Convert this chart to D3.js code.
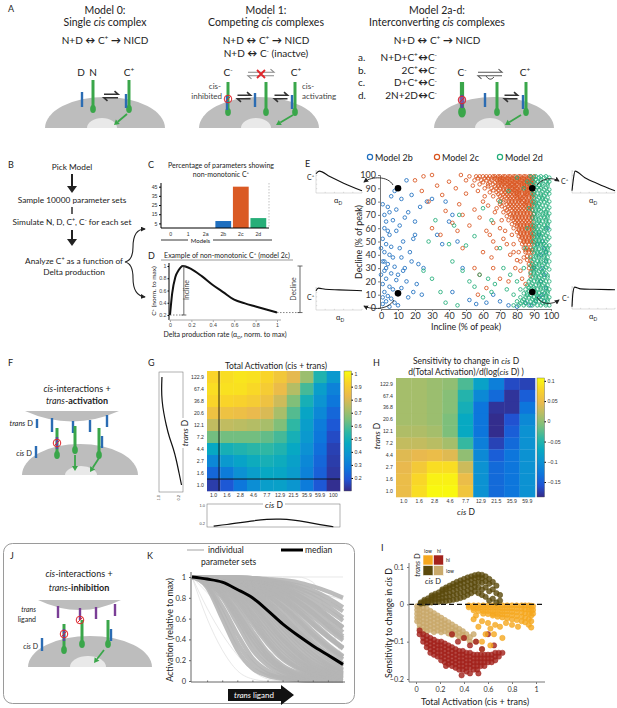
<!DOCTYPE html>
<html>
<head>
<meta charset="utf-8">
<script src="https://cdn.jsdelivr.net/npm/d3@7"></script>
<style>
  body { margin: 0; background: #fff; }
</style>
</head>
<body>
<svg width="617" height="708"></svg>
<script>
// ---------------- data ----------------
// C: percentage of parameter sets showing non-monotonic C+
const modelCats = ["0", "1", "2a", "2b", "2c", "2d"];
const modelPct = [0, 0, 0, 7.6, 45, 10.8];
const cTicks = [5, 15, 25, 35, 45];

// D: example non-monotonic C+ (model 2c)
const dAlpha = [0, 0.02, 0.05, 0.08, 0.12, 0.2, 0.3, 0.4, 0.5, 0.6, 0.7, 0.8, 0.9, 1];
const dCplus = [0.2, 0.55, 0.82, 0.93, 1.0, 0.95, 0.83, 0.69, 0.57, 0.45, 0.39, 0.34, 0.29, 0.24];

// E: incline / decline scatter, [incline, decline]
const e2b = [[1,78],[2,70],[3,65],[2,60],[4,58],[5,55],[1,52],[3,48],[6,46],[2,42],[5,40],[7,38],[1,35],[4,33],[8,31],[2,28],[6,26],[3,22],[9,21],[1,18],[5,16],[7,14],[2,12],[4,9],[6,7],[3,5],[8,4],[1,3],[10,2],[5,1],[11,45],[13,50],[12,38],[14,30],[10,25],[15,20],[12,15],[16,8],[9,58],[11,62],[7,66],[5,72],[9,74],[13,28],[17,42],[19,52],[20,55],[18,35],[22,33],[25,30],[14,68],[16,72],[20,65],[23,76],[27,80],[30,82],[18,85],[12,82],[8,88],[15,96],[6,84],[4,76],[19,12],[21,18],[24,10],[2,35],[0,45],[0,25],[1,8],[3,30],[33,55],[36,48],[40,65],[42,70],[38,80],[45,50],[48,30],[42,12],[52,6],[56,3],[62,4],[66,10],[70,5],[75,2],[93,55],[95,50],[96,45],[94,40],[97,35],[95,30],[96,25],[94,20],[97,15],[95,10],[96,5],[98,60],[92,48],[97,42],[93,8],[90,30],[91,5],[88,2],[85,4],[80,1]];
// model 2c rows: [decline, [inclines]]
const e2cRows = [
  [99,[52,56,58,60,62,64,66,67,69,70,72,73,75,76,78,79,81,82,84,85,87,88,90]],
  [97.5,[57,61,63,65,67,68,70,71,72,74,75,77,78,80,81,83,84,86,87,89]],
  [96,[55,59,62,65,68,70,71,73,74,76,77,79,80,82,83,85,86,88,89]],
  [94.5,[60,64,67,69,70,72,73,75,76,78,79,81,82,84,85,87,88,90]],
  [93,[58,63,66,69,71,72,74,75,77,78,80,81,83,84,86,87,89]],
  [91.5,[63,67,69,71,73,75,76,78,79,81,83,84,86,87,89]],
  [90,[61,65,68,70,72,74,76,77,79,80,82,84,85,87,88]],
  [88.5,[66,69,72,74,76,78,79,81,82,84,86,87,89]],
  [87,[64,68,71,73,75,77,78,80,81,83,85,86,88]],
  [85.5,[69,72,74,76,78,80,81,83,85,86,88,90]],
  [84,[66,70,73,75,77,79,80,82,84,85,87,89]],
  [82.5,[71,74,76,78,80,82,83,85,87,89]],
  [81,[69,72,75,77,79,81,82,84,86,88]],
  [79.5,[72,75,77,79,81,83,85,86,88,90]],
  [78,[70,74,76,78,80,82,84,85,87,89]],
  [76.5,[71,75,77,79,81,83,85,87,89]],
  [75,[68,73,76,78,80,82,84,86,88]],
  [73.5,[74,77,79,81,83,85,87,89]],
  [72,[72,75,78,80,82,84,86,88]],
  [70.5,[76,78,80,82,84,86,88,90]],
  [69,[74,77,79,81,83,85,87,89]],
  [67.5,[77,79,81,83,85,87,89]],
  [66,[75,78,80,82,84,86,88]],
  [64.5,[79,81,83,85,87,89]],
  [63,[77,80,82,84,86,88]],
  [61.5,[80,82,84,86,88,90]],
  [60,[78,81,83,85,87,89]],
  [58.5,[81,83,85,87,89]],
  [57,[80,82,84,86,88]],
  [55.5,[82,84,86,88,90]],
  [54,[81,83,85,87,89]],
  [52.5,[83,85,87,89]],
  [51,[82,84,86,88]],
  [49.5,[84,86,88,90]],
  [48,[83,85,87,89]],
  [45,[84,86,88]],
  [43.5,[85,87,89]],
  [42,[85,87,89]],
  [39,[86,88]],
  [36,[86,88]],
  [33,[87,89]],
  [30,[87,89]],
  [27,[88]],
  [24,[88]]
];
const e2cSparse = [[20,96],[24,88],[28,80],[33,92],[36,85],[40,95],[44,90],[46,78],[48,70],[50,86],[38,73],[42,64],[52,62],[55,74],[58,68],[60,80],[62,58],[64,55],[66,50],[68,45],[70,60],[72,52],[74,48],[76,40],[78,42],[79,30],[80,36],[82,28],[83,22],[85,18],[60,42],[65,38],[55,30],[58,25],[66,30],[70,22],[75,20],[57,10],[62,15],[48,45],[30,60],[35,55],[45,58],[47,100],[30,100],[25,99],[54,92],[50,96],[57,88],[61,84],[63,77],[67,72],[66,64],[71,66],[73,58],[77,55],[78,48],[81,42],[82,35],[84,38]];
// model 2d rows: [decline, [inclines]]
const e2dRows = [
  [99,[88,91,94,97]],[98,[90,93,96,99]],[96.5,[91,94,98]],[95,[89,92,94,97,99]],[93.5,[91,95,98]],[92,[90,93,95,98]],[90.5,[92,94,97]],[89,[91,93,96,99]],
  [87.5,[90,95,98]],[86,[89,92,94,97,99]],[84.5,[91,94,96]],[83,[90,93,95,98]],[81.5,[92,95,97]],[80,[89,91,94,96,99]],[78.5,[91,93,98]],[77,[90,92,95,97]],
  [75.5,[92,94,99]],[74,[89,91,93,96,98]],[72.5,[91,94,97]],[71,[90,92,95,97,99]],[69.5,[92,95,98]],[68,[89,91,94,96,98]],[66.5,[91,93,97]],[65,[90,93,95,97,99]],
  [63.5,[92,94,98]],[62,[89,91,93,96,98]],[60.5,[91,95,97]],[59,[90,92,94,97,99]],[57.5,[91,93,96]],[56,[89,91,93,95,98]],[54.5,[92,94,97]],[53,[90,92,94,96,99]],
  [51.5,[91,93,98]],[50,[89,91,93,95,97]],[48.5,[92,94,96]],[47,[90,92,94,97,99]],[45.5,[91,95,98]],[44,[89,91,93,96,98]],[42.5,[92,94,97]],[41,[90,92,95,97,99]],
  [39.5,[91,93,96]],[38,[88,91,93,96,98]],[36.5,[90,94,97]],[35,[89,92,94,97,99]],[33.5,[91,93,96]],[32,[88,90,93,95,98]],[30.5,[90,92,97]],[29,[89,91,94,96,99]],
  [27.5,[90,93,95]],[26,[88,90,92,95,97]],[24.5,[91,94,98]],[23,[89,91,93,96,98]],[21.5,[88,92,95]],[20,[87,90,92,94,97,99]],[18.5,[89,93,96]],[17,[86,88,91,93,95,98]],
  [15.5,[87,90,94,97]],[14,[85,88,90,92,94,97,99]],[12.5,[87,91,95,98]],[11,[84,86,89,91,93,96,98]],[9.5,[86,88,92,94,97]],[8,[82,85,87,90,92,95,97,99]],
  [6.5,[84,89,91,94,98]],[5,[80,83,86,88,91,93,96,98]],[3.5,[82,85,90,95,97]],[2,[78,81,84,87,89,92,94,97,99]]
];
const e2dSparse = [[30,22],[35,12],[40,48],[43,62],[46,70],[50,47],[52,20],[55,16],[58,25],[60,8],[63,22],[65,12],[67,18],[70,45],[72,30],[74,14],[76,25],[78,10],[80,20],[82,14],[84,30],[85,45],[86,60],[87,75],[88,93],[75,88],[70,80],[65,66],[60,75],[55,54],[48,28],[38,4],[45,2],[42,35],[32,66],[28,50],[25,28],[86,95],[84,90],[80,98]];
const eMarked = [[10,90],[89,90],[10,11],[89,12]];
const eTicks = [0,10,20,30,40,50,60,70,80,90,100];
// E inset curves, [alpha, C+]
const insetTL = [[0,0.88],[0.07,1],[0.3,0.75],[0.6,0.45],[1,0.1]];
const insetTR = [[0,0.1],[0.03,0.6],[0.07,1],[0.3,0.7],[0.6,0.42],[1,0.1]];
const insetBL = [[0,0.88],[0.05,1],[0.2,0.95],[0.5,0.92],[1,0.88]];
const insetBR = [[0,0.1],[0.02,0.7],[0.06,1],[0.2,0.92],[0.5,0.9],[1,0.88]];

// G, H: heatmaps (rows: trans D from high to low, columns: cis D)
const transD = ["122.9","67.4","36.8","20.6","12.1","7.2","4.4","2.7","1.6","1.0"];
const cisD = ["1.0","1.6","2.8","4.6","7.7","12.9","21.5","35.9","59.9","100"];
const cisDH = ["1.0","1.6","2.8","4.6","7.7","12.9","21.5","35.9","59.9"];
const gMatrix = [
  [0.93,0.95,0.97,0.96,0.93,0.88,0.82,0.70,0.52,0.40],
  [0.95,0.96,0.96,0.94,0.90,0.84,0.74,0.58,0.42,0.32],
  [0.93,0.93,0.92,0.90,0.86,0.78,0.66,0.50,0.38,0.28],
  [0.86,0.86,0.85,0.83,0.80,0.72,0.60,0.45,0.34,0.24],
  [0.76,0.76,0.75,0.74,0.72,0.66,0.55,0.42,0.30,0.20],
  [0.64,0.64,0.64,0.64,0.62,0.58,0.50,0.40,0.28,0.17],
  [0.46,0.50,0.52,0.54,0.55,0.52,0.46,0.37,0.26,0.15],
  [0.34,0.40,0.44,0.48,0.50,0.48,0.43,0.34,0.24,0.14],
  [0.24,0.30,0.37,0.42,0.46,0.45,0.41,0.32,0.22,0.13],
  [0.14,0.20,0.28,0.36,0.42,0.43,0.39,0.30,0.20,0.11]
];
const gBarTicks = [0.2,0.3,0.4,0.5,0.6,0.7,0.8,0.9,1];
const hMatrix = [
  [0.010,0.010,0.005,0.000,-0.030,-0.080,-0.120,-0.165,-0.170],
  [0.010,0.010,0.005,-0.005,-0.050,-0.110,-0.140,-0.180,-0.150],
  [0.010,0.010,0.005,-0.005,-0.060,-0.130,-0.180,-0.180,-0.130],
  [0.010,0.010,0.005,-0.010,-0.070,-0.130,-0.185,-0.160,-0.110],
  [0.015,0.015,0.010,-0.010,-0.070,-0.130,-0.185,-0.150,-0.100],
  [0.025,0.025,0.020,0.010,-0.040,-0.120,-0.170,-0.140,-0.100],
  [0.040,0.045,0.050,0.040,0.000,-0.110,-0.150,-0.130,-0.100],
  [0.045,0.065,0.085,0.085,0.030,-0.100,-0.140,-0.130,-0.100],
  [0.050,0.080,0.100,0.100,0.050,-0.100,-0.140,-0.130,-0.100],
  [0.050,0.085,0.105,0.105,0.060,-0.100,-0.140,-0.130,-0.100]
];
const hBarTicks = [0.1,0.05,0,-0.05,-0.1,-0.15];

// K: activation vs trans ligand
const kSteps = [0,0.1,0.2,0.3,0.4,0.5,0.6,0.7,0.8,0.9,1];
const kMedian = [1,0.98,0.95,0.88,0.8,0.68,0.55,0.44,0.34,0.25,0.16];
const kCurves = [
  [1,0.9,0.6,0.3,0.12,0.05,0.02,0.01,0,0,0],
  [1,0.92,0.66,0.37,0.17,0.07,0.03,0.01,0,0,0],
  [1,0.93,0.72,0.45,0.22,0.1,0.04,0.02,0.01,0,0],
  [1,0.95,0.8,0.55,0.3,0.15,0.07,0.03,0.01,0,0],
  [1,0.96,0.82,0.6,0.36,0.19,0.09,0.04,0.02,0.01,0],
  [1,0.96,0.84,0.63,0.4,0.22,0.11,0.05,0.02,0.01,0],
  [1,0.97,0.86,0.66,0.44,0.25,0.13,0.07,0.03,0.01,0],
  [1,0.97,0.88,0.7,0.48,0.28,0.15,0.08,0.04,0.02,0.01],
  [1,0.98,0.9,0.75,0.55,0.36,0.21,0.12,0.06,0.03,0.02],
  [1,0.98,0.91,0.77,0.58,0.39,0.23,0.13,0.07,0.04,0.02],
  [1,0.98,0.92,0.8,0.62,0.42,0.26,0.15,0.08,0.04,0.02],
  [1,0.99,0.93,0.82,0.65,0.46,0.3,0.18,0.1,0.05,0.03],
  [1,0.99,0.94,0.84,0.68,0.5,0.33,0.2,0.11,0.06,0.03],
  [1,0.99,0.95,0.86,0.72,0.54,0.37,0.23,0.13,0.07,0.04],
  [1,0.99,0.95,0.87,0.74,0.57,0.4,0.26,0.15,0.09,0.05],
  [1,0.99,0.96,0.88,0.76,0.6,0.43,0.28,0.17,0.1,0.06],
  [1,0.99,0.96,0.9,0.79,0.64,0.47,0.32,0.2,0.12,0.07],
  [1,0.99,0.96,0.91,0.81,0.67,0.51,0.36,0.23,0.14,0.08],
  [1,1,0.97,0.92,0.83,0.7,0.54,0.39,0.26,0.16,0.1],
  [1,0.99,0.97,0.93,0.85,0.73,0.58,0.43,0.29,0.18,0.11],
  [1,1,0.97,0.93,0.86,0.75,0.61,0.46,0.33,0.22,0.14],
  [1,1,0.98,0.94,0.87,0.77,0.63,0.48,0.35,0.24,0.15],
  [1,1,0.98,0.95,0.89,0.8,0.67,0.52,0.38,0.26,0.17],
  [1,1,0.98,0.95,0.9,0.82,0.71,0.57,0.43,0.31,0.21],
  [1,1,0.99,0.96,0.91,0.83,0.72,0.59,0.45,0.33,0.23],
  [1,1,0.99,0.96,0.92,0.85,0.75,0.62,0.48,0.35,0.24],
  [1,1,0.99,0.97,0.93,0.87,0.78,0.67,0.54,0.42,0.31],
  [1,1,0.99,0.97,0.93,0.87,0.79,0.68,0.55,0.43,0.32],
  [1,1,0.99,0.97,0.94,0.89,0.81,0.7,0.57,0.44,0.32],
  [1,1,1,0.98,0.95,0.9,0.83,0.73,0.62,0.5,0.39],
  [1,1,0.99,0.98,0.96,0.92,0.86,0.77,0.66,0.53,0.41],
  [1,1,1,0.98,0.95,0.91,0.85,0.76,0.65,0.54,0.43],
  [1,1,1,0.98,0.96,0.92,0.87,0.79,0.69,0.58,0.47],
  [1,1,1,0.99,0.97,0.94,0.9,0.83,0.74,0.63,0.51],
  [1,1,1,0.99,0.97,0.94,0.89,0.82,0.73,0.62,0.52],
  [1,1,1,0.99,0.98,0.95,0.91,0.85,0.77,0.68,0.58],
  [1,1,1,0.99,0.98,0.96,0.93,0.88,0.81,0.72,0.61],
  [1,1,1,1,0.99,0.97,0.94,0.9,0.84,0.76,0.67],
  [1,1,1,0.99,0.99,0.97,0.95,0.92,0.87,0.8,0.71],
  [1,1,1,1,0.99,0.98,0.97,0.95,0.91,0.86,0.8]
];
const kFaint = [
  [1,0.9,0.8,0.7,0.6,0.5,0.4,0.3,0.2,0.1,0],
  [1,0.95,0.9,0.85,0.8,0.75,0.7,0.65,0.6,0.55,0.5],
  [1,0.7,0.45,0.25,0.1,0.02,0,0,0,0,0],
  [1,0.6,0.3,0.1,0.02,0,0,0,0,0,0],
  [1,1,1,1,1,1,1,1,1,1,1],
  [1,0.98,0.96,0.94,0.92,0.9,0.88,0.86,0.84,0.82,0.8],
  [1,0.85,0.7,0.55,0.42,0.3,0.2,0.12,0.06,0.02,0],
  [1,1,1,1,1,1,0.9,0.5,0.1,0,0],
  [1,1,1,0.95,0.6,0.2,0.05,0,0,0,0],
  [1,1,1,1,1,0.95,0.7,0.3,0.08,0.01,0],
  [1,1,0.99,0.98,0.97,0.95,0.93,0.9,0.86,0.82,0.78],
  [1,1,1,1,1,1,1,1,0.95,0.6,0.2]
];
const kTicks = [0,0.2,0.4,0.6,0.8,1];

// I: sensitivity vs total activation, rows [activation, [sensitivities]]
const iOliveRows = [
  [0.04,[0.002,0.005]],[0.07,[0.003,0.008,0.012]],[0.10,[0.004,0.01,0.016]],
  [0.13,[0.005,0.012,0.019,0.024]],[0.16,[0.006,0.014,0.022,0.028]],[0.19,[0.007,0.015,0.024,0.032]],
  [0.22,[0.008,0.017,0.027,0.036,0.04]],[0.25,[0.009,0.019,0.03,0.04,0.045]],[0.28,[0.01,0.021,0.032,0.043,0.05]],
  [0.31,[0.012,0.024,0.036,0.047,0.055]],[0.34,[0.014,0.027,0.04,0.051,0.06]],[0.37,[0.017,0.03,0.043,0.055,0.064]],
  [0.40,[0.02,0.033,0.046,0.058,0.068]],[0.43,[0.025,0.037,0.05,0.062,0.072]],[0.46,[0.03,0.042,0.054,0.066,0.075]],
  [0.49,[0.035,0.047,0.058,0.07,0.078]],[0.52,[0.03,0.045,0.06,0.072,0.08]],[0.55,[0.025,0.04,0.058,0.07,0.079]],
  [0.58,[0.02,0.045,0.062,0.075]],[0.61,[0.01,0.035,0.055,0.068]],[0.64,[0.015,0.04,0.06]],
  [0.67,[0.005,0.03,0.05]],[0.70,[0.01,0.025]]
];
const iOrangeRows = [
  [0.44,[-0.003,-0.008]],[0.48,[-0.003,-0.01,-0.016]],[0.52,[-0.003,-0.01,-0.018]],
  [0.56,[-0.003,-0.01,-0.018,-0.025]],[0.60,[-0.003,-0.01,-0.018,-0.026]],[0.64,[-0.003,-0.01,-0.018,-0.026,-0.03]],
  [0.68,[-0.003,-0.01,-0.018,-0.026,-0.033]],[0.72,[-0.003,-0.011,-0.019,-0.027,-0.035]],[0.76,[-0.003,-0.011,-0.019,-0.028,-0.037]],
  [0.80,[-0.003,-0.011,-0.02,-0.029,-0.04]],[0.84,[-0.003,-0.012,-0.021,-0.031,-0.042]],[0.88,[-0.003,-0.012,-0.022,-0.033,-0.045]],
  [0.91,[-0.003,-0.013,-0.024,-0.036,-0.048]],[0.94,[-0.003,-0.014,-0.026,-0.04,-0.055]],[0.96,[-0.004,-0.016,-0.03,-0.045,-0.062]],
  [0.975,[-0.005,-0.015,-0.025]]
];
const iOrangeSparse = [[0.5,-0.03],[0.55,-0.045],[0.6,-0.05],[0.62,-0.065],[0.66,-0.055],[0.7,-0.06],[0.58,-0.08],[0.52,-0.06],[0.75,-0.05],[0.8,-0.055],[0.65,-0.08],[0.72,-0.09],[0.85,-0.06],[0.48,-0.04],[0.55,-0.1],[0.62,-0.11]];
const iTanRows = [
  [0.01,[-0.005,-0.015,-0.025,-0.035,-0.045]],[0.03,[-0.005,-0.015,-0.025,-0.035,-0.045,-0.055,-0.065]],
  [0.06,[-0.01,-0.02,-0.03,-0.04,-0.05,-0.06,-0.07]],[0.09,[-0.012,-0.022,-0.032,-0.042,-0.052,-0.062,-0.072]],
  [0.12,[-0.018,-0.028,-0.038,-0.048,-0.058,-0.068]],[0.15,[-0.024,-0.034,-0.044,-0.054,-0.064,-0.074]],
  [0.18,[-0.03,-0.04,-0.05,-0.06,-0.07]],[0.21,[-0.036,-0.046,-0.056,-0.066,-0.075]],
  [0.24,[-0.042,-0.052,-0.062,-0.072]],[0.27,[-0.048,-0.058,-0.068,-0.078]],
  [0.30,[-0.054,-0.064,-0.074,-0.082]],[0.33,[-0.06,-0.07,-0.08]],[0.36,[-0.066,-0.076,-0.086]],
  [0.39,[-0.072,-0.082,-0.09]],[0.42,[-0.08,-0.09]],[0.45,[-0.088,-0.1]]
];
const iTanSparse = [[0.5,-0.1],[0.48,-0.08],[0.55,-0.12]];
const iRedRows = [
  [0.03,[-0.07,-0.08]],[0.06,[-0.08,-0.09,-0.1]],[0.09,[-0.085,-0.095,-0.105,-0.115]],
  [0.12,[-0.09,-0.1,-0.11,-0.12,-0.13]],[0.15,[-0.095,-0.105,-0.115,-0.125,-0.135]],
  [0.18,[-0.1,-0.11,-0.12,-0.13,-0.14]],[0.21,[-0.1,-0.11,-0.12,-0.13,-0.14,-0.15]],
  [0.24,[-0.105,-0.115,-0.125,-0.135,-0.145,-0.155]],[0.27,[-0.11,-0.12,-0.13,-0.14,-0.15,-0.16]],
  [0.30,[-0.115,-0.125,-0.135,-0.145,-0.155,-0.165]],[0.33,[-0.12,-0.13,-0.14,-0.15,-0.16,-0.17]],
  [0.36,[-0.125,-0.135,-0.145,-0.155,-0.165,-0.175]],[0.39,[-0.125,-0.135,-0.145,-0.155,-0.165,-0.175]],
  [0.42,[-0.13,-0.14,-0.15,-0.16,-0.17,-0.18]],[0.45,[-0.13,-0.14,-0.15,-0.16,-0.17]],
  [0.48,[-0.135,-0.145,-0.155,-0.165,-0.175]],[0.51,[-0.135,-0.145,-0.155,-0.165,-0.175]],
  [0.54,[-0.135,-0.145,-0.155,-0.165]],[0.57,[-0.135,-0.145,-0.155,-0.165]],
  [0.60,[-0.135,-0.145,-0.155]],[0.63,[-0.135,-0.145,-0.155]],[0.66,[-0.13,-0.14,-0.15]],
  [0.69,[-0.13,-0.14]],[0.72,[-0.13]]
];
const iRedSparse = [[0.3,-0.08],[0.35,-0.1],[0.4,-0.09],[0.45,-0.11],[0.5,-0.1],[0.55,-0.12],[0.6,-0.08],[0.38,-0.19],[0.45,-0.185],[0.52,-0.185],[0.25,-0.165],[0.65,-0.11]];
const iXTicks = [0,0.2,0.4,0.6,0.8,1];
const iYTicks = [0.1,0,-0.1,-0.2];

// ---------------- helpers ----------------
const svg = d3.select('svg');
svg.append('rect').attr('width', 617).attr('height', 708).attr('fill', '#fff');
const FONT = 'Lato, "Open Sans", "DejaVu Sans", sans-serif';
const TFONT = '"Liberation Sans", Arial, sans-serif';
const GREEN = '#3aa64a', BLUE = '#2b6cb3', GRAY = '#bdbdbd', NUC = '#e9e9e9', PURPLE = '#7a3e96';

const defs = svg.append('defs');
defs.append('marker').attr('id', 'ah').attr('viewBox', '0 0 6 6')
  .attr('refX', 5).attr('refY', 3).attr('markerWidth', 5).attr('markerHeight', 5)
  .attr('markerUnits', 'userSpaceOnUse').attr('orient', 'auto-start-reverse')
  .append('path').attr('d', 'M0,0 L6,3 L0,6 Z').attr('fill', '#222');

function rich(g, x, y, parts, o = {}) {
  const fs = o.size || 9;
  const t = g.append('text').attr('x', x).attr('y', y)
    .attr('font-size', fs).attr('font-family', o.font || FONT)
    .attr('text-anchor', o.anchor || 'start').attr('fill', o.fill || '#222');
  if (o.weight) t.attr('font-weight', o.weight);
  if (o.rotate) t.attr('transform', `rotate(${o.rotate},${x},${y})`);
  if (typeof parts === 'string') parts = [[parts]];
  let shift = 0;
  parts.forEach(p => {
    const s = Array.isArray(p) ? p[0] : p;
    const f = (Array.isArray(p) && p[1]) || '';
    const sp = t.append('tspan').text(s);
    let target = 0;
    if (f.includes('^')) target = -0.38 * fs;
    if (f.includes('_')) target = 0.25 * fs;
    if (target !== shift) { sp.attr('dy', target - shift); shift = target; }
    if (f.includes('^') || f.includes('_')) sp.attr('font-size', fs * 0.65);
    if (f.includes('i')) sp.attr('font-style', 'italic');
    if (f.includes('b')) sp.attr('font-weight', 'bold');
  });
  return t;
}
function dome(g, cx, by, rx, ry, fill) {
  g.append('path').attr('d', `M${cx - rx},${by} A${rx},${ry} 0 0 1 ${cx + rx},${by} Z`).attr('fill', fill);
}
function receptor(g, x, y1, y2, w = 3) {
  g.append('line').attr('x1', x).attr('x2', x).attr('y1', y1).attr('y2', y2)
    .attr('stroke', GREEN).attr('stroke-width', w);
  g.append('ellipse').attr('cx', x).attr('cy', y2).attr('rx', w * 0.85 + 0.3).attr('ry', w * 1.2 + 0.5).attr('fill', GREEN);
}
function bar(g, x, y1, y2, color = BLUE, w = 2.4) {
  g.append('line').attr('x1', x).attr('x2', x).attr('y1', y1).attr('y2', y2)
    .attr('stroke', color).attr('stroke-width', w);
}
function harp(g, cx, cy, w, color = '#333', sw = 1.6) {
  const h = w / 2;
  g.append('path').attr('d', `M${cx - h},${cy - 1.8} L${cx + h},${cy - 1.8} L${cx + h - 3.5},${cy - 4.8}`)
    .attr('fill', 'none').attr('stroke', color).attr('stroke-width', sw);
  g.append('path').attr('d', `M${cx + h},${cy + 1.8} L${cx - h},${cy + 1.8} L${cx - h + 3.5},${cy + 4.8}`)
    .attr('fill', 'none').attr('stroke', color).attr('stroke-width', sw);
}
function garrow(g, x1, y1, x2, y2) {
  const a = Math.atan2(y2 - y1, x2 - x1), L = 5, W = 3;
  const bx = x2 - L * Math.cos(a), by = y2 - L * Math.sin(a);
  g.append('line').attr('x1', x1).attr('y1', y1).attr('x2', bx).attr('y2', by)
    .attr('stroke', GREEN).attr('stroke-width', 1.8);
  g.append('path').attr('fill', GREEN).attr('d',
    `M${x2},${y2} L${bx + W * Math.sin(a)},${by - W * Math.cos(a)} L${bx - W * Math.sin(a)},${by + W * Math.cos(a)} Z`);
}
function redCircle(g, x, y, fill = 'none') {
  g.append('circle').attr('cx', x).attr('cy', y).attr('r', 3.8).attr('fill', fill)
    .attr('stroke', '#e0262b').attr('stroke-width', 1);
  g.append('line').attr('x1', x - 2.6).attr('y1', y + 2.6).attr('x2', x + 2.6).attr('y2', y - 2.6)
    .attr('stroke', '#e0262b').attr('stroke-width', 1);
}
function downArrow(g, x, y1, y2) {
  g.append('line').attr('x1', x).attr('x2', x).attr('y1', y1).attr('y2', y2 - 6)
    .attr('stroke', '#222').attr('stroke-width', 2);
  g.append('path').attr('d', `M${x - 5},${y2 - 7} L${x + 5},${y2 - 7} L${x},${y2} Z`).attr('fill', '#222');
}

// ---------------- panel A ----------------
const gA = svg.append('g');
rich(gA, 8, 12, 'A', { size: 9 });
const T = 10.5;
rich(gA, 105, 14, 'Model 0:', { size: T, anchor: 'middle' });
rich(gA, 105, 26, ['Single ', ['cis', 'i'], ' complex'], { size: T, anchor: 'middle' });
rich(gA, 105, 44, ['N+D ', ['↔', 'b'], ' C', ['+', '^'], ' ', ['→', 'b'], ' NICD'], { size: 10, anchor: 'middle' });
rich(gA, 266, 14, 'Model 1:', { size: T, anchor: 'middle' });
rich(gA, 266, 26, ['Competing ', ['cis', 'i'], ' complexes'], { size: T, anchor: 'middle' });
rich(gA, 266, 44, ['N+D ', ['↔', 'b'], ' C', ['+', '^'], ' ', ['→', 'b'], ' NICD'], { size: 10, anchor: 'middle' });
rich(gA, 266, 57, ['N+D ', ['↔', 'b'], ' C', ['-', '^'], ' (inactve)'], { size: 10, anchor: 'middle' });
rich(gA, 437, 14, 'Model 2a-d:', { size: T, anchor: 'middle' });
rich(gA, 437, 26, ['Interconverting ', ['cis', 'i'], ' complexes'], { size: T, anchor: 'middle' });
rich(gA, 437, 44, ['N+D ', ['↔', 'b'], ' C', ['+', '^'], ' ', ['→', 'b'], ' NICD'], { size: 10, anchor: 'middle' });
const listA = [
  ['a.', ['N+D+C', ['+', '^'], ['↔', 'b'], 'C', ['-', '^']]],
  ['b.', ['2C', ['+', '^'], ['↔', 'b'], 'C', ['-', '^']]],
  ['c.', ['D+C', ['+', '^'], ['↔', 'b'], 'C', ['-', '^']]],
  ['d.', ['2N+2D', ['↔', 'b'], 'C', ['-', '^']]]
];
listA.forEach((row, i) => {
  const y = 61 + i * 12.7;
  rich(gA, 358, y, row[0], { size: 10 });
  rich(gA, 437, y, row[1], { size: 10, anchor: 'end' });
});

// Model 0 cartoon
dome(gA, 105, 128, 60, 31, GRAY);
dome(gA, 102, 128, 15, 10, NUC);
rich(gA, 81, 76, 'D', { size: 10, anchor: 'middle' });
rich(gA, 93, 76, 'N', { size: 10, anchor: 'middle' });
rich(gA, 129, 76, ['C', ['+', '^']], { size: 10, anchor: 'middle' });
bar(gA, 82, 92, 107);
receptor(gA, 93, 80, 109);
receptor(gA, 129, 80, 109);
bar(gA, 126, 94, 108);
harp(gA, 111, 96, 14);
garrow(gA, 127, 114, 114, 125);

// Model 1 cartoon
dome(gA, 259, 128, 60, 31, GRAY);
dome(gA, 256, 128, 15, 10, NUC);
rich(gA, 228, 76, ['C', ['-', '^']], { size: 10, anchor: 'middle' });
rich(gA, 296, 76, ['C', ['+', '^']], { size: 10, anchor: 'middle' });
harp(gA, 261, 74, 26, '#888', 1.1);
gA.append('path').attr('d', 'M257,70 L265,78 M265,70 L257,78').attr('stroke', '#e0262b').attr('stroke-width', 1.8);
receptor(gA, 228, 82, 112);
bar(gA, 227, 96, 110);
redCircle(gA, 228, 99);
bar(gA, 255, 93, 107);
receptor(gA, 266, 82, 112);
receptor(gA, 295, 82, 112);
bar(gA, 292, 95, 109);
harp(gA, 244, 97, 13);
harp(gA, 281, 97, 13);
rich(gA, 221, 89, 'cis-', { size: 8, anchor: 'end', fill: '#444' });
rich(gA, 222, 99, 'inhibited', { size: 8, anchor: 'end', fill: '#444' });
rich(gA, 302, 89, 'cis-', { size: 8, fill: '#444' });
rich(gA, 302, 99, 'activating', { size: 8, fill: '#444' });
garrow(gA, 293, 115, 276, 125);

// Model 2 cartoon
dome(gA, 494, 128, 60, 31, GRAY);
dome(gA, 490, 128, 15, 10, NUC);
rich(gA, 462, 76, ['C', ['-', '^']], { size: 10, anchor: 'middle' });
rich(gA, 525, 76, ['C', ['+', '^']], { size: 10, anchor: 'middle' });
harp(gA, 490, 74, 24, '#555', 1.1);
gA.append('path').attr('d', 'M486,76 Q490,82 494,77').attr('fill', 'none').attr('stroke', '#555').attr('stroke-width', 1);
receptor(gA, 462, 82, 112, 4.2);
bar(gA, 462, 95, 108, '#5a4aa0', 3);
redCircle(gA, 462, 100, 'rgba(150,90,170,0.6)');
bar(gA, 485, 93, 107);
receptor(gA, 497, 82, 112);
receptor(gA, 526, 82, 112);
bar(gA, 523, 95, 109);
harp(gA, 511, 97, 13);
garrow(gA, 521, 115, 505, 125);

// ---------------- panel B ----------------
const gB = svg.append('g');
rich(gB, 8, 168, 'B', { size: 9 });
const BS = 8.3;
rich(gB, 72, 170, 'Pick Model', { size: BS, anchor: 'middle' });
downArrow(gB, 72, 174, 193);
rich(gB, 72, 203, 'Sample 10000 parameter sets', { size: BS, anchor: 'middle' });
bar(gB, 72, 207, 214, '#222', 1.4);
rich(gB, 72, 225, ['Simulate N, D, C', ['+', '^'], ', C', ['-', '^'], ' for each set'], { size: BS, anchor: 'middle' });
downArrow(gB, 72, 230, 246);
rich(gB, 74, 264, ['Analyze C', ['+', '^'], ' as a function of'], { size: BS, anchor: 'middle' });
rich(gB, 74, 275, 'Delta production', { size: BS, anchor: 'middle' });
gB.append('path')
  .attr('d', 'M145,229 C136,229 133,236 133,247 C133,256 130,261 125,262 C130,263 133,268 133,278 C133,289 136,296 145,297')
  .attr('fill', 'none').attr('stroke', '#222').attr('stroke-width', 1.1)
  .attr('marker-start', 'url(#ah)').attr('marker-end', 'url(#ah)');

// ---------------- panel C ----------------
const gC = svg.append('g');
rich(gC, 148, 168, 'C', { size: 9 });
rich(gC, 221, 168, 'Percentage of parameters showing', { size: 7, anchor: 'middle' });
rich(gC, 221, 177, ['non-monotonic C', ['+', '^']], { size: 7, anchor: 'middle' });
const cX = d3.scaleBand().domain(modelCats).range([161, 268]).padding(0.1);
const cY = d3.scaleLinear().domain([0, 49]).range([228, 183]);
const cColor = { '2b': '#1f6fbf', '2c': '#da5a24', '2d': '#27ae78' };
gC.selectAll('rect.bar').data(modelCats.map((c, i) => ({ c, v: modelPct[i] })).filter(d => d.v > 0))
  .join('rect').attr('class', 'bar')
  .attr('x', d => cX(d.c)).attr('width', cX.bandwidth())
  .attr('y', d => cY(d.v)).attr('height', d => cY(0) - cY(d.v))
  .attr('fill', d => cColor[d.c]);
const cAxY = gC.append('g').attr('transform', 'translate(161,0)')
  .call(d3.axisLeft(cY).tickValues(cTicks).tickSize(2).tickPadding(1.5));
cAxY.select('.domain').attr('d', 'M0,183 V228');
const cAxX = gC.append('g').attr('transform', 'translate(0,228)')
  .call(d3.axisBottom(cX).tickSize(0).tickPadding(4));
cAxX.select('.domain').attr('d', 'M161,0 H269');
[cAxY, cAxX].forEach(a => a.selectAll('text').attr('font-size', 5.2).attr('font-family', TFONT).attr('fill', '#333'));
gC.append('line').attr('x1', 269).attr('x2', 269).attr('y1', 183).attr('y2', 228)
  .attr('stroke', '#999').attr('stroke-width', 0.6).attr('stroke-dasharray', '1.5,1.5');
gC.append('line').attr('x1', 161).attr('x2', 272).attr('y1', 240).attr('y2', 240).attr('stroke', '#222').attr('stroke-width', 0.9);
gC.append('rect').attr('x', 188).attr('y', 236).attr('width', 25).attr('height', 8).attr('fill', '#fff');
rich(gC, 200.5, 242.5, 'Models', { size: 6, anchor: 'middle' });

// ---------------- panel D ----------------
const gD = svg.append('g');
rich(gD, 148, 259, 'D', { size: 9 });
rich(gD, 227, 258, ['Example of non-monotonic C', ['+', '^'], ' (model 2c)'], { size: 7, anchor: 'middle' });
gD.append('line').attr('x1', 161).attr('x2', 293).attr('y1', 260).attr('y2', 260).attr('stroke', '#333').attr('stroke-width', 0.5);
const dX = d3.scaleLinear().domain([0, 1]).range([170, 277]);
const dY = d3.scaleLinear().domain([0.2, 1]).range([315, 266]);
const dAxY = gD.append('g').attr('transform', 'translate(169,0)')
  .call(d3.axisLeft(dY).tickValues([0.2, 0.4, 0.6, 0.8, 1]).tickFormat(d3.format('~g')).tickSize(1.5).tickPadding(1));
dAxY.select('.domain').attr('d', 'M0,263 V320');
const dAxX = gD.append('g').attr('transform', 'translate(0,320)')
  .call(d3.axisBottom(dX).tickValues([0, 0.2, 0.4, 0.6, 0.8, 1]).tickFormat(d3.format('~g')).tickSize(2).tickPadding(1.5));
dAxX.select('.domain').attr('d', 'M169,0 H281').attr('stroke', '#aaa');
[dAxY, dAxX].forEach(a => a.selectAll('text').attr('font-size', 5.3).attr('font-family', TFONT).attr('fill', '#444'));
dAxX.selectAll('line').attr('stroke', '#aaa');
const dLine = d3.line().x((d, i) => dX(dAlpha[i])).y(d => dY(d)).curve(d3.curveMonotoneX);
gD.append('path').attr('d', dLine(dCplus)).attr('fill', 'none').attr('stroke', '#111').attr('stroke-width', 2);
// incline / decline markers
const peakX = dX(dAlpha[dCplus.indexOf(d3.max(dCplus))]);
gD.append('line').attr('x1', dX(0)).attr('x2', peakX).attr('y1', dY(dCplus[0])).attr('y2', dY(dCplus[0]))
  .attr('stroke', '#666').attr('stroke-dasharray', '1.5,1.5').attr('stroke-width', 0.8);
function tBar(x, ya, yb) {
  gD.append('path').attr('d', `M${x},${ya} V${yb} M${x - 2.5},${ya} H${x + 2.5} M${x - 2.5},${yb} H${x + 2.5}`)
    .attr('stroke', '#444').attr('stroke-width', 0.8).attr('fill', 'none');
}
tBar(peakX + 1, dY(1), dY(dCplus[0]));
rich(gD, peakX + 6, 290, 'Incline', { size: 7, anchor: 'middle', rotate: -90, fill: '#444' });
gD.append('line').attr('x1', dX(1)).attr('x2', 301).attr('y1', dY(dCplus[dCplus.length - 1])).attr('y2', dY(dCplus[dCplus.length - 1]))
  .attr('stroke', '#666').attr('stroke-dasharray', '1.5,1.5').attr('stroke-width', 0.8);
tBar(300, dY(1), dY(dCplus[dCplus.length - 1]));
rich(gD, 296, 289, 'Decline', { size: 7, anchor: 'middle', rotate: -90, fill: '#444' });
rich(gD, 156, 291, ['C', ['+', '^'], ' (norm. to max)'], { size: 6.5, anchor: 'middle', rotate: -90 });
rich(gD, 225, 337, ['Delta production rate (α', ['D', '_'], ', norm. to max)'], { size: 7, anchor: 'middle' });

// ---------------- panel E ----------------
const gE = svg.append('g');
rich(gE, 305, 167, 'E', { size: 9 });
const eX = d3.scaleLinear().domain([0, 100]).range([381, 551]);
const eY = d3.scaleLinear().domain([0, 100]).range([308, 175]);
const eCol = { b: '#1f6fbf', c: '#d9541e', d: '#22ad7a' };
[['b', 'Model 2b', 370], ['c', 'Model 2c', 437], ['d', 'Model 2d', 500]].forEach(([k, lab, x]) => {
  gE.append('circle').attr('cx', x).attr('cy', 157).attr('r', 2.6).attr('fill', 'none').attr('stroke', eCol[k]).attr('stroke-width', 1.2);
  rich(gE, x + 5, 160.5, lab, { size: 9 });
});
const flatRows = rows => rows.flatMap(([a, bs]) => bs.map(b => [b, a]));
const eSets = [
  ['b', e2b],
  ['c', flatRows(e2cRows).concat(e2cSparse)],
  ['d', flatRows(e2dRows).concat(e2dSparse)]
];
eSets.forEach(([k, pts]) => {
  gE.append('g').selectAll('circle').data(pts).join('circle')
    .attr('cx', d => eX(d[0])).attr('cy', d => eY(d[1])).attr('r', 1.8)
    .attr('fill', 'none').attr('stroke', eCol[k]).attr('stroke-width', 0.85);
});
const eAxY = gE.append('g').attr('transform', 'translate(380,0)')
  .call(d3.axisLeft(eY).tickValues(eTicks).tickSize(2).tickPadding(2));
const eAxX = gE.append('g').attr('transform', 'translate(0,309)')
  .call(d3.axisBottom(eX).tickValues(eTicks).tickSize(2).tickPadding(2));
[eAxY, eAxX].forEach(a => {
  a.selectAll('text').attr('font-size', 9).attr('font-family', FONT).attr('fill', '#333');
  a.selectAll('line, path').attr('stroke', '#777');
});
rich(gE, 466, 330, 'Incline (% of peak)', { size: 8.8, anchor: 'middle' });
rich(gE, 362, 242, 'Decline (% of peak)', { size: 8.8, anchor: 'middle', rotate: -90 });
gE.selectAll('circle.mk').data(eMarked).join('circle').attr('class', 'mk')
  .attr('cx', d => eX(d[0])).attr('cy', d => eY(d[1])).attr('r', 3.3).attr('fill', '#000');
// insets
function inset(x0, y0, w, h, pts, cLabel, aLabel) {
  const ix = d3.scaleLinear().domain([0, 1]).range([x0, x0 + w]);
  const iy = d3.scaleLinear().domain([0, 1.05]).range([y0 + h, y0]);
  gE.append('path').attr('d', `M${x0},${y0} V${y0 + h} H${x0 + w}`).attr('fill', 'none').attr('stroke', '#bbb').attr('stroke-width', 0.5);
  [0.2, 0.4, 0.6, 0.8, 1].forEach(t => {
    gE.append('line').attr('x1', ix(t)).attr('x2', ix(t)).attr('y1', y0 + h).attr('y2', y0 + h - 1.2).attr('stroke', '#bbb').attr('stroke-width', 0.5);
    gE.append('line').attr('x1', x0).attr('x2', x0 + 1.2).attr('y1', iy(t)).attr('y2', iy(t)).attr('stroke', '#bbb').attr('stroke-width', 0.5);
  });
  gE.append('path').attr('d', d3.line().x(d => ix(d[0])).y(d => iy(d[1])).curve(d3.curveMonotoneX)(pts))
    .attr('fill', 'none').attr('stroke', '#111').attr('stroke-width', 1.1);
  rich(gE, cLabel[0], cLabel[1], ['C', ['+', '^']], { size: 7 });
  rich(gE, aLabel[0], aLabel[1], ['α', ['D', '_']], { size: 7.5, anchor: 'middle' });
}
inset(316, 170, 46, 23, insetTL, [307, 180], [338, 203]);
inset(572, 170, 43, 23, insetTR, [561, 184], [593, 203]);
inset(316, 287, 46, 23, insetBL, [307, 300], [340, 320]);
inset(572, 286, 43, 23, insetBR, [562, 301], [593, 319]);
const eArrows = ['M393,185 C388,176 372,176 364,182', 'M394,300 C388,310 372,310 364,306',
  'M537,185 C543,178 552,177 559,181', 'M537,297 C541,305 552,305 559,300'];
eArrows.forEach(d => gE.append('path').attr('d', d).attr('fill', 'none').attr('stroke', '#222')
  .attr('stroke-width', 0.9).attr('marker-end', 'url(#ah)'));

// ---------------- panel F ----------------
const gF = svg.append('g');
rich(gF, 8, 366, 'F', { size: 9 });
rich(gF, 77, 392, [['cis', 'i'], '-interactions +'], { size: 9, anchor: 'middle' });
rich(gF, 77, 404, [['trans', 'i'], '-', ['activation', 'b']], { size: 9, anchor: 'middle' });
gF.append('path').attr('d', 'M25,411 H119 Q72,432 25,411 Z').attr('fill', GRAY);
[[37, 419, 428], [52, 418, 432], [73, 421, 433], [90, 420, 432], [107, 415, 427]].forEach(b => bar(gF, b[0], b[1], b[2]));
rich(gF, 33, 426, [['trans', 'i'], ' D'], { size: 7.5, anchor: 'end' });
dome(gF, 80, 475, 58, 31, GRAY);
dome(gF, 81, 475, 16, 9, NUC);
bar(gF, 36, 446, 458);
rich(gF, 32, 456, [['cis', 'i'], ' D'], { size: 7.5, anchor: 'end' });
receptor(gF, 57, 428, 455);
bar(gF, 57, 437, 449, '#5a4aa0', 2.4);
redCircle(gF, 57, 443);
receptor(gF, 75, 426, 450);
receptor(gF, 99, 428, 455);
bar(gF, 102, 436, 448);
garrow(gF, 75, 455, 75, 471);
garrow(gF, 99, 458, 90, 472);

// ---------------- panel G ----------------
const gG = svg.append('g');
rich(gG, 148, 366, 'G', { size: 9 });
rich(gG, 276, 369, 'Total Activation (cis + trans)', { size: 8.5, anchor: 'middle' });
const parulaStops = ['#352a87', '#2053d4', '#0d75dc', '#0c93d2', '#07a9c2', '#2eb7a4', '#7cbf7b', '#b7bd64', '#e9b94e', '#f9d32a', '#f9fb0e'];
const parulaPos = [0, 0.095, 0.19, 0.3, 0.397, 0.49, 0.6, 0.7, 0.79, 0.9, 1];
const parula = d3.scaleLinear().domain(parulaPos).range(parulaStops).clamp(true);
const gXb = d3.scaleBand().domain(cisD).range([207, 340]);
const gYb = d3.scaleBand().domain(transD).range([371, 491]);
const gNorm = d3.scaleLinear().domain([0.1, 1.02]).range([0, 1]);
gMatrix.forEach((row, r) => row.forEach((v, c) => {
  gG.append('rect').attr('x', gXb(cisD[c])).attr('y', gYb(transD[r]))
    .attr('width', gXb.bandwidth() + 0.3).attr('height', gYb.bandwidth() + 0.3).attr('fill', parula(gNorm(v)));
}));
gG.append('line').attr('x1', 219).attr('x2', 219).attr('y1', 371).attr('y2', 491).attr('stroke', '#111').attr('stroke-width', 0.9);
gG.append('line').attr('x1', 207).attr('x2', 340).attr('y1', 479).attr('y2', 479).attr('stroke', '#111').attr('stroke-width', 0.9);
function heatAxes(g, xb, yb, xl, yBot) {
  const ax = g.append('g').attr('transform', `translate(${xl},0)`).call(d3.axisLeft(yb).tickSize(0).tickPadding(3));
  ax.select('.domain').remove();
  const bx = g.append('g').attr('transform', `translate(0,${yBot})`).call(d3.axisBottom(xb).tickSize(0).tickPadding(2.5));
  bx.select('.domain').remove();
  [ax, bx].forEach(a => a.selectAll('text').attr('font-size', 5.2).attr('font-family', TFONT).attr('fill', '#333'));
}
heatAxes(gG, gXb, gYb, 207, 491);
// colorbars
function colorbar(g, id, x, y0, y1, dom, ticks, fmt) {
  const grad = defs.append('linearGradient').attr('id', id).attr('x1', 0).attr('x2', 0).attr('y1', 1).attr('y2', 0);
  parulaPos.forEach((p, i) => grad.append('stop').attr('offset', p).attr('stop-color', parulaStops[i]));
  g.append('rect').attr('x', x).attr('y', y0).attr('width', 7.5).attr('height', y1 - y0)
    .attr('fill', `url(#${id})`).attr('stroke', '#555').attr('stroke-width', 0.4);
  const s = d3.scaleLinear().domain(dom).range([y1, y0]);
  const a = g.append('g').attr('transform', `translate(${x + 7.5},0)`)
    .call(d3.axisRight(s).tickValues(ticks).tickFormat(fmt).tickSize(1.5).tickPadding(1.5));
  a.select('.domain').remove();
  a.selectAll('text').attr('font-size', 5.2).attr('font-family', TFONT).attr('fill', '#333');
}
colorbar(gG, 'cbG', 344, 371, 491, [0.1, 1.02], gBarTicks, d3.format('~g'));
// left inset: column at cis D = 1.0
const liX = d3.scaleLinear().domain([1.05, 0.08]).range([159, 183]);
gG.append('rect').attr('x', 159).attr('y', 372).attr('width', 24).attr('height', 120).attr('fill', 'none').attr('stroke', '#666').attr('stroke-width', 0.5);
gG.append('path').attr('d', d3.line().x(d => liX(d)).y((d, i) => gYb(transD[i]) + gYb.bandwidth() / 2).curve(d3.curveBasis)(gMatrix.map(r => r[0])))
  .attr('fill', 'none').attr('stroke', '#111').attr('stroke-width', 1.2);
rich(gG, liX(1.0), 495, '1.0', { size: 4, anchor: 'end', rotate: -90, font: TFONT, fill: '#444' });
rich(gG, liX(0.2), 495, '0.2', { size: 4, anchor: 'end', rotate: -90, font: TFONT, fill: '#444' });
gG.append('rect').attr('x', 182).attr('y', 418).attr('width', 8).attr('height', 30).attr('fill', '#fff');
rich(gG, 188, 433, [['trans', 'i'], ' D'], { size: 8.5, anchor: 'middle', rotate: -90 });
// bottom inset: row at trans D = 1.0
const biY = d3.scaleLinear().domain([1.05, 0.1]).range([504, 527]);
gG.append('rect').attr('x', 207).attr('y', 504).attr('width', 133).attr('height', 23).attr('fill', 'none').attr('stroke', '#666').attr('stroke-width', 0.5);
gG.append('path').attr('d', d3.line().x((d, i) => gXb(cisD[i]) + gXb.bandwidth() / 2).y(d => biY(d)).curve(d3.curveBasis)(gMatrix[gMatrix.length - 1]))
  .attr('fill', 'none').attr('stroke', '#111').attr('stroke-width', 1.2);
rich(gG, 205, 507, '1.0', { size: 4, anchor: 'end', font: TFONT, fill: '#444' });
rich(gG, 205, 525, '0.2', { size: 4, anchor: 'end', font: TFONT, fill: '#444' });
gG.append('rect').attr('x', 263).attr('y', 500).attr('width', 22).attr('height', 9).attr('fill', '#fff');
rich(gG, 274, 508, [['cis', 'i'], ' D'], { size: 8.5, anchor: 'middle' });

// ---------------- panel H ----------------
const gH = svg.append('g');
rich(gH, 373, 366, 'H', { size: 9 });
rich(gH, 466, 364, ['Sensitivity to change in ', ['cis', 'i'], ' D'], { size: 8.5, anchor: 'middle' });
rich(gH, 466, 375, ['d(Total Activation)/d(log(', ['cis', 'i'], ' D) )'], { size: 8.5, anchor: 'middle' });
const hXb = d3.scaleBand().domain(cisDH).range([396, 535]);
const hYb = d3.scaleBand().domain(transD).range([378, 497]);
const hNorm = d3.scaleLinear().domain([-0.187, 0.107]).range([0, 1]);
hMatrix.forEach((row, r) => row.forEach((v, c) => {
  gH.append('rect').attr('x', hXb(cisDH[c])).attr('y', hYb(transD[r]))
    .attr('width', hXb.bandwidth() + 0.3).attr('height', hYb.bandwidth() + 0.3).attr('fill', parula(hNorm(v)));
}));
heatAxes(gH, hXb, hYb, 396, 497);
colorbar(gH, 'cbH', 537, 378, 497, [-0.187, 0.107], hBarTicks, d3.format('~g'));
rich(gH, 466, 515, [['cis', 'i'], ' D'], { size: 8.5, anchor: 'middle' });
rich(gH, 380, 436, [['trans', 'i'], ' D'], { size: 8.5, anchor: 'middle', rotate: -90 });

// ---------------- panels J & K ----------------
const gJ = svg.append('g');
gJ.append('rect').attr('x', 3.5).attr('y', 543.5).attr('width', 351).attr('height', 160).attr('rx', 9)
  .attr('fill', 'none').attr('stroke', '#9a9a9a').attr('stroke-width', 1);
rich(gJ, 10, 559, 'J', { size: 9 });
rich(gJ, 79, 577, [['cis', 'i'], '-interactions +'], { size: 9, anchor: 'middle' });
rich(gJ, 79, 591, [['trans', 'i'], '-', ['inhibition', 'b']], { size: 9, anchor: 'middle' });
gJ.append('path').attr('d', 'M38,600 H121 Q80,620 38,600 Z').attr('fill', GRAY);
[[58, 606, 618], [80, 608, 620], [96, 607, 619], [115, 604, 616]].forEach(b => bar(gJ, b[0], b[1], b[2], PURPLE));
rich(gJ, 36, 612, [['trans', 'i']], { size: 7, anchor: 'end' });
rich(gJ, 36, 622, 'ligand', { size: 7, anchor: 'end' });
dome(gJ, 90, 667, 62, 31, GRAY);
dome(gJ, 88, 667, 18, 11, NUC);
bar(gJ, 42, 638, 651);
rich(gJ, 38, 649, [['cis', 'i'], ' D'], { size: 7, anchor: 'end' });
receptor(gJ, 64, 624, 650);
bar(gJ, 64, 629, 641, '#5a4aa0', 2.4);
redCircle(gJ, 64, 634);
receptor(gJ, 82, 620, 644);
redCircle(gJ, 80, 620);
receptor(gJ, 108, 620, 644);
bar(gJ, 111, 629, 641);
garrow(gJ, 104, 650, 94, 663);

const gK = svg.append('g');
rich(gK, 147, 559, 'K', { size: 9 });
const kX = d3.scaleLinear().domain([0, 1]).range([192, 343]);
const kY = d3.scaleLinear().domain([0, 1]).range([681, 577]);
const kLine = d3.line().x((d, i) => kX(kSteps[i])).y(d => kY(d)).curve(d3.curveMonotoneX);
gK.append('g').selectAll('path').data(kFaint).join('path').attr('d', kLine)
  .attr('fill', 'none').attr('stroke', '#dedede').attr('stroke-width', 0.7);
gK.append('g').selectAll('path').data(kCurves).join('path').attr('d', kLine)
  .attr('fill', 'none').attr('stroke', '#b5b5b5').attr('stroke-width', 4.2).attr('stroke-opacity', 0.9);
gK.append('path').attr('d', kLine(kMedian)).attr('fill', 'none').attr('stroke', '#000').attr('stroke-width', 3);
const kAx = gK.append('g').attr('transform', 'translate(191,0)')
  .call(d3.axisLeft(kY).tickValues(kTicks).tickFormat(d3.format('~g')).tickSize(2).tickPadding(3));
kAx.select('.domain').attr('d', 'M0,572 V682');
const kAxX = gK.append('g').attr('transform', 'translate(0,682)')
  .call(d3.axisBottom(kX).tickValues([0.1, 0.2, 0.3, 0.4, 0.5, 0.6, 0.7, 0.8, 0.9]).tickFormat('').tickSize(-1.5));
kAxX.select('.domain').attr('d', 'M191,0 H345');
[kAx, kAxX].forEach(a => a.selectAll('line, path').attr('stroke', '#666'));
kAx.selectAll('text').attr('font-size', 7.5).attr('font-family', FONT).attr('fill', '#333');
rich(gK, 173, 630, 'Activation (relative to max)', { size: 8.8, anchor: 'middle', rotate: -90 });
gK.append('path').attr('d', 'M228,689 H281 V685 L294,695 L281,705 V701 H228 Z').attr('fill', '#111');
rich(gK, 254, 698.3, [['trans', 'i'], ' ligand'], { size: 8, anchor: 'middle', fill: '#fff' });
gK.append('line').attr('x1', 187).attr('x2', 204).attr('y1', 550).attr('y2', 550).attr('stroke', '#b3b3b3').attr('stroke-width', 1.2);
rich(gK, 208, 553, 'individual', { size: 8.5 });
rich(gK, 201, 565, 'parameter sets', { size: 8.5 });
gK.append('line').attr('x1', 281).attr('x2', 303).attr('y1', 550).attr('y2', 550).attr('stroke', '#000').attr('stroke-width', 3);
rich(gK, 305, 553, 'median', { size: 8.5 });

// ---------------- panel I ----------------
const gI = svg.append('g');
rich(gI, 381, 551, 'I', { size: 9 });
const iX = d3.scaleLinear().domain([0, 1]).range([416, 536]);
const iY = d3.scaleLinear().domain([-0.2, 0.1]).range([679, 567]);
const iCol = { tan: '#c9a96b', red: '#a3221c', orange: '#f5a71e', olive: '#5b4a0d' };
const flatI = rows => rows.flatMap(([x, ys]) => ys.map(y => [x, y]));
[['tan', flatI(iTanRows).concat(iTanSparse)], ['red', flatI(iRedRows).concat(iRedSparse)],
 ['orange', flatI(iOrangeRows).concat(iOrangeSparse)], ['olive', flatI(iOliveRows)]].forEach(([k, pts]) => {
  gI.append('g').selectAll('circle').data(pts).join('circle')
    .attr('cx', d => iX(d[0])).attr('cy', d => iY(d[1])).attr('r', 2.7)
    .attr('fill', iCol[k]).attr('fill-opacity', 0.8).attr('stroke', iCol[k]).attr('stroke-width', 0.5);
});
gI.append('line').attr('x1', 409).attr('x2', 545).attr('y1', iY(0)).attr('y2', iY(0))
  .attr('stroke', '#111').attr('stroke-width', 1.3).attr('stroke-dasharray', '5,3');
const iAxY = gI.append('g').attr('transform', 'translate(409,0)')
  .call(d3.axisLeft(iY).tickValues(iYTicks).tickFormat(d3.format('~g')).tickSize(2).tickPadding(3));
iAxY.select('.domain').attr('d', 'M0,563 V682');
const iAxX = gI.append('g').attr('transform', 'translate(0,682)')
  .call(d3.axisBottom(iX).tickValues(iXTicks).tickFormat(d3.format('~g')).tickSize(2).tickPadding(3));
iAxX.select('.domain').attr('d', 'M409,0 H545');
[iAxY, iAxX].forEach(a => {
  a.selectAll('text').attr('font-size', 7.2).attr('font-family', FONT).attr('fill', '#333');
  a.selectAll('line, path').attr('stroke', '#777');
});
rich(gI, 475, 705, 'Total Activation (cis + trans)', { size: 9, anchor: 'middle' });
rich(gI, 392, 623, ['Sensitivity to change in ', ['cis', 'i'], ' D'], { size: 8.8, anchor: 'middle', rotate: -90 });
// legend squares
const iLeg = [['orange', 423, 555], ['red', 433.5, 555], ['olive', 423, 565.5], ['tan', 433.5, 565.5]];
iLeg.forEach(([k, x, y]) => gI.append('rect').attr('x', x).attr('y', y).attr('width', 10).attr('height', 10)
  .attr('fill', iCol[k]).attr('stroke', '#fff').attr('stroke-width', 0.6));
rich(gI, 428, 553, 'low', { size: 5, anchor: 'middle' });
rich(gI, 439, 553, 'hi', { size: 5, anchor: 'middle' });
rich(gI, 446, 562, 'hi', { size: 5 });
rich(gI, 446, 573, 'low', { size: 5 });
rich(gI, 420, 565, [['trans', 'i'], ' D'], { size: 7.5, anchor: 'middle', rotate: -90 });
rich(gI, 433, 584, [['cis', 'i'], ' D'], { size: 7.5, anchor: 'middle' });
</script>
</body>
</html>
